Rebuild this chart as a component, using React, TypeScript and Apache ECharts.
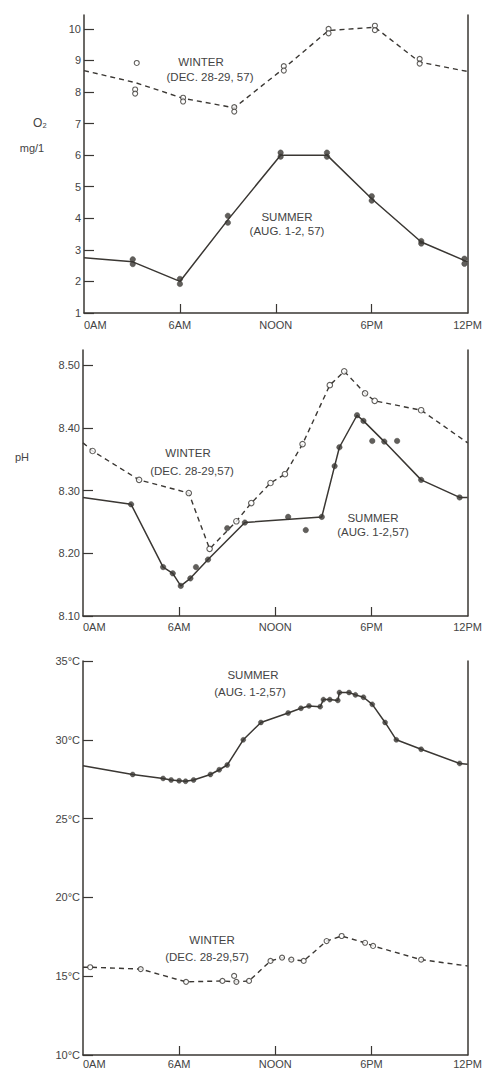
import React, { useEffect, useRef } from "react";
import * as echarts from "echarts";

// ---- axis ticks ----
const HOUR_TICKS = [0, 6, 12, 18, 24];
const HOUR_LABELS = ["0AM", "6AM", "NOON", "6PM", "12PM"];
const O2_TICKS = [1, 2, 3, 4, 5, 6, 7, 8, 9, 10];
const PH_TICKS = [8.1, 8.2, 8.3, 8.4, 8.5];
const TEMP_TICKS = [10, 15, 20, 25, 30, 35];

// ---- dissolved oxygen (mg/l) : [hour, value] ----
const O2_WINTER_LINE = [[0, 8.68], [3.2, 8.3], [6.2, 7.8], [9.4, 7.5], [12.5, 8.75], [15.3, 9.95], [18.2, 10.05], [21.0, 8.95], [24, 8.65]];
const O2_WINTER_POINTS = [[3.2, 8.08], [3.2, 7.95], [3.3, 8.92], [6.2, 7.82], [6.2, 7.7], [9.4, 7.52], [9.4, 7.38], [12.5, 8.82], [12.5, 8.68], [15.3, 10.0], [15.3, 9.86], [18.2, 10.1], [18.2, 9.96], [21.0, 9.05], [21.0, 8.9]];
const O2_SUMMER_LINE = [[0, 2.75], [3.05, 2.62], [6.0, 2.0], [9.0, 3.95], [12.3, 6.0], [15.2, 6.0], [18.0, 4.62], [21.1, 3.25], [24, 2.62]];
const O2_SUMMER_POINTS = [[3.05, 2.7], [3.05, 2.55], [6.0, 2.08], [6.0, 1.92], [9.0, 4.08], [9.0, 3.86], [12.3, 6.08], [12.3, 5.95], [15.2, 6.08], [15.2, 5.95], [18.0, 4.7], [18.0, 4.56], [21.1, 3.28], [21.1, 3.2], [23.8, 2.72], [23.8, 2.56]];

// ---- pH ----
const PH_WINTER_LINE = [[0, 8.376], [0.6, 8.363], [3.5, 8.317], [6.6, 8.296], [7.9, 8.207], [9.57, 8.251], [10.5, 8.28], [11.7, 8.312], [12.6, 8.326], [13.7, 8.374], [15.4, 8.468], [16.3, 8.49], [17.6, 8.455], [18.2, 8.443], [21.1, 8.428], [24, 8.376]];
const PH_WINTER_POINTS = [[0.6, 8.363], [3.5, 8.317], [6.6, 8.296], [7.9, 8.207], [9.57, 8.251], [10.5, 8.28], [11.7, 8.312], [12.6, 8.326], [13.7, 8.374], [15.4, 8.468], [16.3, 8.49], [17.6, 8.455], [18.2, 8.443], [21.1, 8.428]];
const PH_SUMMER_LINE = [[0, 8.289], [3.0, 8.278], [5.0, 8.178], [5.6, 8.168], [6.1, 8.148], [6.7, 8.16], [7.8, 8.19], [10.1, 8.249], [14.9, 8.258], [15.7, 8.339], [16.0, 8.369], [17.1, 8.42], [17.5, 8.411], [18.8, 8.378], [21.1, 8.317], [23.5, 8.289], [24, 8.289]];
const PH_SUMMER_POINTS = [[3.0, 8.278], [5.0, 8.178], [5.6, 8.168], [6.1, 8.148], [6.7, 8.16], [7.05, 8.178], [7.8, 8.19], [9.0, 8.24], [10.1, 8.249], [12.8, 8.258], [13.9, 8.237], [14.9, 8.258], [15.7, 8.339], [16.0, 8.369], [17.1, 8.42], [17.5, 8.411], [18.05, 8.379], [18.8, 8.378], [19.6, 8.379], [21.1, 8.317], [23.5, 8.289]];

// ---- temperature (°C) ----
const TEMP_SUMMER_LINE = [[0, 28.36], [3.1, 27.8], [5.0, 27.55], [5.5, 27.45], [6.0, 27.4], [6.4, 27.37], [6.9, 27.45], [7.95, 27.8], [8.5, 28.1], [9.0, 28.4], [10.0, 30.0], [11.1, 31.1], [12.8, 31.7], [13.6, 32.0], [14.1, 32.15], [14.8, 32.1], [15.0, 32.55], [15.4, 32.55], [15.9, 32.5], [16.0, 33.0], [16.6, 33.0], [17.0, 32.85], [17.5, 32.7], [18.05, 32.25], [18.85, 31.1], [19.55, 30.0], [21.1, 29.4], [23.5, 28.5], [24, 28.45]];
const TEMP_SUMMER_POINTS = [[3.1, 27.8], [5.0, 27.55], [5.5, 27.45], [6.0, 27.4], [6.4, 27.37], [6.9, 27.45], [7.95, 27.8], [8.5, 28.1], [9.0, 28.4], [10.0, 30.0], [11.1, 31.1], [12.8, 31.7], [13.6, 32.0], [14.1, 32.15], [14.8, 32.1], [15.0, 32.55], [15.4, 32.55], [15.9, 32.5], [16.0, 33.0], [16.6, 33.0], [17.0, 32.85], [17.5, 32.7], [18.05, 32.25], [18.85, 31.1], [19.55, 30.0], [21.1, 29.4], [23.5, 28.5]];
const TEMP_WINTER_LINE = [[0, 15.57], [0.45, 15.57], [3.6, 15.45], [6.43, 14.64], [8.7, 14.7], [9.57, 14.64], [10.36, 14.7], [11.7, 15.97], [12.42, 16.18], [13.0, 16.05], [13.77, 15.97], [15.2, 17.23], [16.14, 17.55], [17.6, 17.12], [18.1, 16.92], [21.1, 16.05], [24, 15.65]];
const TEMP_WINTER_POINTS = [[0.45, 15.57], [3.6, 15.45], [6.43, 14.64], [8.7, 14.7], [9.43, 15.02], [9.57, 14.64], [10.36, 14.7], [11.7, 15.97], [12.42, 16.18], [13.0, 16.05], [13.77, 15.97], [15.2, 17.23], [16.14, 17.55], [17.6, 17.12], [18.1, 16.92], [21.1, 16.05]];

const INK = "#3a3733";
const FONT = "Liberation Sans";

function xAxisFor(gridIndex: number, margin: number) {
  return {
    type: "value",
    gridIndex,
    min: 0,
    max: 24,
    interval: 6,
    axisLine: { show: true, lineStyle: { color: INK, width: 1.5 } },
    axisTick: { show: true, inside: true, length: 9, customValues: [6, 12, 18], lineStyle: { color: INK, width: 1.2 } },
    axisLabel: {
      show: true,
      margin,
      customValues: HOUR_TICKS,
      color: "#444",
      fontFamily: FONT,
      fontSize: 11,
      alignMinLabel: "left",
      formatter: (v: number) => {
        const i = HOUR_TICKS.indexOf(Math.round(v));
        return i >= 0 ? HOUR_LABELS[i] : "";
      },
    },
    splitLine: { show: false },
  };
}

function yAxesFor(gridIndex: number, min: number, max: number, ticks: number[], fmt: (v: number) => string) {
  return [
    {
      type: "value",
      gridIndex,
      min,
      max,
      axisLine: { show: true, lineStyle: { color: INK, width: 1.5 } },
      axisTick: { show: true, inside: true, length: 10, customValues: ticks, lineStyle: { color: INK, width: 1.2 } },
      axisLabel: { show: true, margin: 3, customValues: ticks, color: "#444", fontFamily: FONT, fontSize: 11, formatter: fmt },
      splitLine: { show: false },
    },
    {
      type: "value",
      gridIndex,
      position: "right",
      min,
      max,
      axisLine: { show: true, lineStyle: { color: INK, width: 1.5 } },
      axisTick: { show: false },
      axisLabel: { show: false },
      splitLine: { show: false },
    },
  ];
}

function lineSeries(axisIdx: number, data: number[][], dashed: boolean) {
  return {
    type: "line",
    xAxisIndex: axisIdx,
    yAxisIndex: axisIdx * 2,
    data,
    showSymbol: false,
    symbol: "none",
    lineStyle: { color: INK, width: dashed ? 1.4 : 1.5, type: dashed ? [5, 4] : "solid" },
    z: 2,
  };
}

function pointSeries(axisIdx: number, data: number[][], open: boolean, size: number) {
  return {
    type: "scatter",
    xAxisIndex: axisIdx,
    yAxisIndex: axisIdx * 2,
    data,
    symbol: "circle",
    symbolSize: size,
    itemStyle: open
      ? { color: "#ffffff", borderColor: INK, borderWidth: 1.1 }
      : { color: INK, borderColor: INK, borderWidth: 0.5 },
    z: 3,
  };
}

function label(text: string, x: number, y: number, size = 11.5) {
  return {
    type: "text",
    x,
    y,
    style: {
      text,
      fill: "#444",
      font: `${size}px "${FONT}"`,
      textAlign: "center",
      textVerticalAlign: "middle",
    },
  };
}

export default function App() {
  const ref = useRef<HTMLDivElement>(null);

  useEffect(() => {
    if (!ref.current) return;
    const chart = echarts.init(ref.current, null, { renderer: "svg" });
    const option = {
      animation: false,
      backgroundColor: "#ffffff",
      grid: [
        { left: 84, right: 15, top: 15, bottom: 759 },
        { left: 83, right: 15, top: 350, bottom: 456 },
        { left: 83, right: 16, top: 661, bottom: 17 },
      ],
      xAxis: [xAxisFor(0, 6), xAxisFor(1, 5), xAxisFor(2, 3)],
      yAxis: [
        ...yAxesFor(0, 1, 10.44, O2_TICKS, (v: number) => String(Math.round(v))),
        ...yAxesFor(1, 8.1, 8.524, PH_TICKS, (v: number) => v.toFixed(2)),
        ...yAxesFor(2, 10, 35, TEMP_TICKS, (v: number) => `${Math.round(v)}°C`),
      ],
      series: [
        lineSeries(0, O2_WINTER_LINE, true),
        pointSeries(0, O2_WINTER_POINTS, true, 5),
        lineSeries(0, O2_SUMMER_LINE, false),
        pointSeries(0, O2_SUMMER_POINTS, false, 5.5),
        lineSeries(1, PH_WINTER_LINE, true),
        pointSeries(1, PH_WINTER_POINTS, true, 5.5),
        lineSeries(1, PH_SUMMER_LINE, false),
        pointSeries(1, PH_SUMMER_POINTS, false, 5.5),
        lineSeries(2, TEMP_SUMMER_LINE, false),
        pointSeries(2, TEMP_SUMMER_POINTS, false, 5),
        lineSeries(2, TEMP_WINTER_LINE, true),
        pointSeries(2, TEMP_WINTER_POINTS, true, 5),
      ],
      graphic: [
        label("O₂", 40, 123, 12),
        label("mg/1", 32, 148, 11),
        label("WINTER", 201, 62),
        label("(DEC. 28-29, 57)", 210, 77),
        label("SUMMER", 287, 217),
        label("(AUG. 1-2, 57)", 287, 231),
        label("pH", 22, 457, 11),
        label("WINTER", 188, 453),
        label("(DEC. 28-29,57)", 192, 471),
        label("SUMMER", 373, 518),
        label("(AUG. 1-2,57)", 373, 532),
        label("SUMMER", 253, 675),
        label("(AUG. 1-2,57)", 250, 692),
        label("WINTER", 212, 940),
        label("(DEC. 28-29,57)", 207, 957),
      ],
    };
    chart.setOption(option as any);
    return () => chart.dispose();
  }, []);

  return (
    <div
      ref={ref}
      style={{ position: "absolute", left: 0, top: 0, width: 485, height: 1072, background: "#fff" }}
    />
  );
}
